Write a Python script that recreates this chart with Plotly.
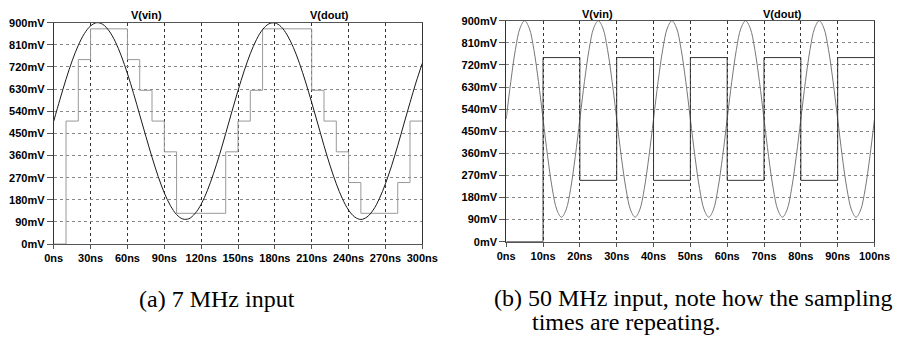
import plotly.graph_objects as go

# ---- Data: (a) 7 MHz input ----
a_t_vin = [0, 5, 10, 15, 20, 25, 30, 35, 40, 45, 50, 55, 60, 65, 70, 75, 80, 85, 90, 95,
           100, 105, 110, 115, 120, 125, 130, 135, 140, 145, 150, 155, 160, 165, 170, 175,
           180, 185, 190, 195, 200, 205, 210, 215, 220, 225, 230, 235, 240, 245, 250, 255,
           260, 265, 270, 275, 280, 285, 290, 295, 300]
a_vin = [500, 587, 670, 745, 808, 856, 887, 900, 893, 867, 824, 765, 693, 612, 525, 438,
         353, 275, 208, 156, 120, 102, 103, 124, 162, 217, 286, 364, 450, 538, 624, 704,
         774, 831, 872, 895, 899, 884, 850, 800, 735, 659, 575, 488, 400, 318, 245, 184,
         138, 110, 100, 110, 138, 184, 245, 318, 400, 488, 575, 659, 735]
a_t_dout = [0, 10, 20, 30, 60, 70, 80, 90, 100, 140, 150, 160, 170, 210, 220, 230, 240,
            250, 280, 290, 300]
a_dout = [0, 500, 750, 875, 750, 625, 500, 375, 125, 375, 500, 625, 875, 625, 500, 375,
          250, 125, 250, 500, 500]
a_xticks = [0, 30, 60, 90, 120, 150, 180, 210, 240, 270, 300]

# ---- Data: (b) 50 MHz input ----
b_t_vin = [i * 1.25 for i in range(81)]
b_vin = [500, 653, 783, 870, 900, 870, 783, 653, 500, 347, 217, 130, 100, 130, 217, 347,
         500, 653, 783, 870, 900, 870, 783, 653, 500, 347, 217, 130, 100, 130, 217, 347,
         500, 653, 783, 870, 900, 870, 783, 653, 500, 347, 217, 130, 100, 130, 217, 347,
         500, 653, 783, 870, 900, 870, 783, 653, 500, 347, 217, 130, 100, 130, 217, 347,
         500, 653, 783, 870, 900, 870, 783, 653, 500, 347, 217, 130, 100, 130, 217, 347,
         500]
b_t_dout = [0, 10, 20, 30, 40, 50, 60, 70, 80, 90, 100]
b_dout = [0, 750, 250, 750, 250, 750, 250, 750, 250, 750, 750]
b_xticks = [0, 10, 20, 30, 40, 50, 60, 70, 80, 90, 100]

y_ticks = [0, 90, 180, 270, 360, 450, 540, 630, 720, 810, 900]
y_labels = [f"{v}mV" for v in y_ticks]

W, H = 908, 342
TICKFONT = dict(family="Liberation Sans", size=11, color="#000000")

fig = go.Figure()

fig.add_trace(go.Scatter(x=a_t_dout, y=a_dout, mode="lines", line=dict(color="#999999", width=1, shape="hv"),
                         xaxis="x", yaxis="y", showlegend=False))
fig.add_trace(go.Scatter(x=a_t_vin, y=a_vin, mode="lines", line=dict(color="#1a1a1a", width=1, shape="spline"),
                         xaxis="x", yaxis="y", showlegend=False))
fig.add_trace(go.Scatter(x=b_t_vin, y=b_vin, mode="lines", line=dict(color="#777777", width=1, shape="spline"),
                         xaxis="x2", yaxis="y2", showlegend=False))
fig.add_trace(go.Scatter(x=b_t_dout, y=b_dout, mode="lines", line=dict(color="#333333", width=1, shape="hv"),
                         xaxis="x2", yaxis="y2", showlegend=False))

def xax(domain, rng, ticks, anchor):
    return dict(domain=domain, range=rng, tickvals=ticks, ticktext=[f"<b>{t}ns</b>" for t in ticks],
                showgrid=True, gridcolor="#333333", griddash="3px,3px", gridwidth=1,
                showline=True, linecolor="#555555", linewidth=1, mirror=True,
                ticks="outside", ticklen=4, tickcolor="#555555", tickfont=TICKFONT,
                zeroline=False, anchor=anchor, fixedrange=True)

def yax(domain, anchor):
    return dict(domain=domain, range=[0, 900], tickvals=y_ticks, ticktext=[f"<b>{l}</b>" for l in y_labels],
                showgrid=True, gridcolor="#888888", griddash="3px,3px", gridwidth=1,
                showline=True, linecolor="#333333", linewidth=1, mirror=True,
                ticks="outside", ticklen=6, tickcolor="#555555", tickfont=TICKFONT,
                zeroline=False, anchor=anchor, fixedrange=True)

fig.update_layout(
    width=W, height=H, margin=dict(l=0, r=0, t=0, b=0),
    paper_bgcolor="white", plot_bgcolor="white",
    xaxis=xax([46 / W, 425 / W], [0, 300], a_xticks, "y"),
    yaxis=yax([(H - 246.7) / H, (H - 17.3) / H], "x"),
    xaxis2=xax([511.3 / W, 890 / W], [0, 100], b_xticks, "y2"),
    yaxis2=yax([(H - 244.3) / H, (H - 15.3) / H], "x2"),
)

def ann(text, x, y, size, family, xanchor="center", bold=False):
    fig.add_annotation(text=(f"<b>{text}</b>" if bold else text), x=x / W, y=1 - y / H,
                       xref="paper", yref="paper", showarrow=False, xanchor=xanchor, yanchor="middle",
                       font=dict(family=family, size=size, color="#000000"))

ann("V(vin)", 141.7, 9.5, 11, "Liberation Sans", bold=True)
ann("V(dout)", 330, 9.5, 11, "Liberation Sans", bold=True)
ann("V(vin)", 605, 8, 11, "Liberation Sans", bold=True)
ann("V(dout)", 795, 8, 11, "Liberation Sans", bold=True)

ann("(a) 7 MHz input", 131.7, 304, 24, "Liberation Serif", xanchor="left")
ann("(b) 50 MHz input, note how the sampling", 496.7, 303, 24, "Liberation Serif", xanchor="left")
ann("times are repeating.", 536, 327, 24, "Liberation Serif", xanchor="left")

fig.write_html("out.html")
